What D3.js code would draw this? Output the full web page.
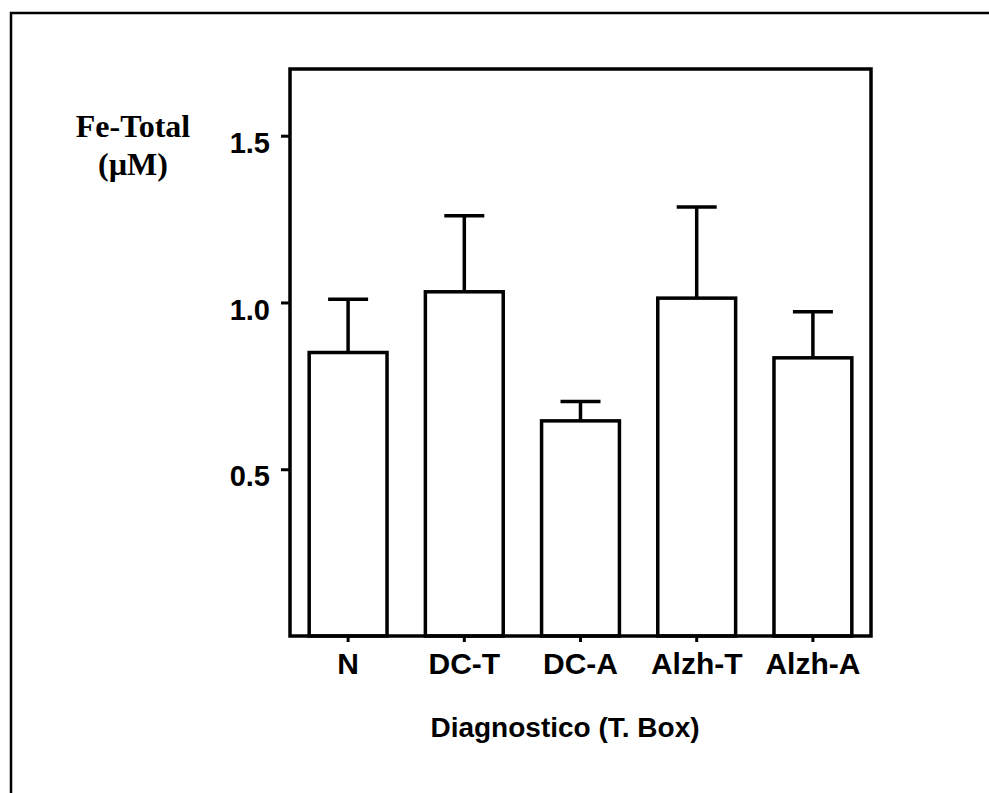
<!DOCTYPE html>
<html>
<head>
<meta charset="utf-8">
<script src="https://cdn.jsdelivr.net/npm/d3@7"></script>
<style>
  html, body { margin: 0; padding: 0; background: #fff; }
  svg { display: block; }
</style>
</head>
<body>
<div id="svg-container"></div>
<script>
const categories = ['N', 'DC-T', 'DC-A', 'Alzh-T', 'Alzh-A'];
const means = [0.85, 1.032, 0.645, 1.013, 0.834];
const errors = [0.16, 0.228, 0.058, 0.273, 0.138];
const yTicks = [0.5, 1.0, 1.5];
const yLabelLines = ['Fe-Total', '(\u00B5M)'];
const xTitle = 'Diagnostico (T. Box)';

const WIDTH = 989;
const HEIGHT = 793;
const LEFT = 290;
const RIGHT = 871;
const TOP = 69;
const BOTTOM = 636;
const SANS = '"Liberation Sans", Arial, sans-serif';
const SERIF = '"Liberation Serif", "Times New Roman", serif';

const drawChart = () => {
  const data = categories.map((c, i) => ({ cat: c, mean: means[i], err: errors[i] }));

  const svg = d3.create('svg').attr('width', WIDTH).attr('height', HEIGHT);

  // outer frame (only top and left edges visible)
  svg.append('path')
    .attr('d', `M11,${HEIGHT} L11,13 L${WIDTH},13`)
    .attr('fill', 'none')
    .attr('stroke', '#000')
    .attr('stroke-width', 2.5);

  const xScale = d3.scaleBand()
    .domain(categories)
    .range([LEFT, RIGHT])
    .paddingInner(0.33)
    .paddingOuter(0.165);
  const yScale = d3.scaleLinear()
    .domain([0, 1.7])
    .range([BOTTOM, TOP]);

  // bars
  svg.selectAll('rect.bar')
    .data(data)
    .join('rect')
    .attr('class', 'bar')
    .attr('x', (d) => xScale(d.cat))
    .attr('y', (d) => yScale(d.mean))
    .attr('width', xScale.bandwidth())
    .attr('height', (d) => yScale(0) - yScale(d.mean))
    .attr('fill', '#fff')
    .attr('stroke', '#000')
    .attr('stroke-width', 3.5);

  // upper error bars
  const capHalf = 20;
  const err = svg.append('g').attr('stroke', '#000').attr('stroke-width', 3.5);
  err.selectAll('line.stem')
    .data(data)
    .join('line')
    .attr('class', 'stem')
    .attr('x1', (d) => xScale(d.cat) + xScale.bandwidth() / 2)
    .attr('x2', (d) => xScale(d.cat) + xScale.bandwidth() / 2)
    .attr('y1', (d) => yScale(d.mean))
    .attr('y2', (d) => yScale(d.mean + d.err));
  err.selectAll('line.cap')
    .data(data)
    .join('line')
    .attr('class', 'cap')
    .attr('x1', (d) => xScale(d.cat) + xScale.bandwidth() / 2 - capHalf)
    .attr('x2', (d) => xScale(d.cat) + xScale.bandwidth() / 2 + capHalf)
    .attr('y1', (d) => yScale(d.mean + d.err))
    .attr('y2', (d) => yScale(d.mean + d.err));

  // plot box
  svg.append('rect')
    .attr('x', LEFT)
    .attr('y', TOP)
    .attr('width', RIGHT - LEFT)
    .attr('height', BOTTOM - TOP)
    .attr('fill', 'none')
    .attr('stroke', '#000')
    .attr('stroke-width', 3.5);

  // axes
  const axisLeft = d3.axisLeft(yScale)
    .tickValues(yTicks)
    .tickFormat(d3.format('.1f'))
    .tickSize(9)
    .tickPadding(11);
  const axisBottom = d3.axisBottom(xScale).tickSize(6).tickPadding(11);

  const gy = svg.append('g')
    .attr('transform', `translate(${LEFT}, 0)`)
    .call(axisLeft);
  const gx = svg.append('g')
    .attr('transform', `translate(0, ${BOTTOM})`)
    .call(axisBottom);

  [gx, gy].forEach((g) => {
    g.select('.domain').remove();
    g.selectAll('.tick line').attr('stroke', '#000').attr('stroke-width', 3);
    g.selectAll('.tick text')
      .attr('fill', '#000')
      .style('font-family', SANS)
      .style('font-weight', 'bold')
      .style('font-size', '29px');
  });
  gx.selectAll('.tick text').style('font-size', '30px');
  gy.selectAll('.tick text').attr('dy', '0.57em');

  // y label (two lines, serif)
  svg.append('text')
    .attr('text-anchor', 'middle')
    .style('font-family', SERIF)
    .style('font-weight', 'bold')
    .style('font-size', '32px')
    .selectAll('tspan')
    .data(yLabelLines)
    .join('tspan')
    .attr('x', 133)
    .attr('y', (d, i) => 137 + i * 38)
    .text((d) => d);

  // x title
  svg.append('text')
    .attr('x', 565)
    .attr('y', 737)
    .attr('text-anchor', 'middle')
    .style('font-family', SANS)
    .style('font-weight', 'bold')
    .style('font-size', '28px')
    .text(xTitle);

  document.getElementById('svg-container').appendChild(svg.node());
};

drawChart();
</script>
</body>
</html>
